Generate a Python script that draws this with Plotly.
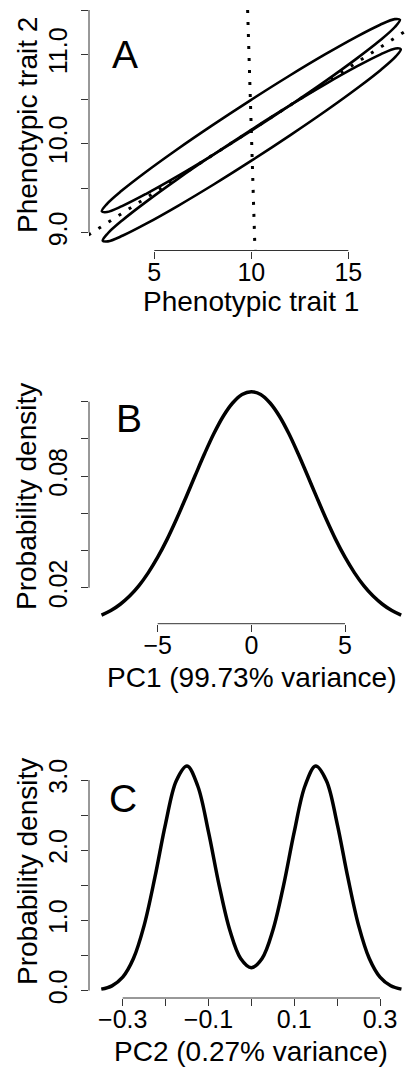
import plotly.graph_objects as go

# ---------------- Panel A data ----------------
trait1_ticks = [5, 10, 15]
trait1_ticktext = ["5", "10", "15"]
trait2_ticks = [9.0, 9.5, 10.0, 10.5, 11.0, 11.5]
trait2_ticktext = ["9.0", "", "10.0", "", "11.0", ""]

ellipse_upper_x = [17.659, 17.391, 16.618, 15.392, 13.797, 11.942, 9.953, 7.966, 6.115, 4.528, 3.312, 2.551, 2.295,
                   2.563, 3.336, 4.562, 6.157, 8.012, 10.001, 11.988, 13.839, 15.426, 16.642, 17.403, 17.659]
ellipse_upper_y = [11.390, 11.398, 11.332, 11.196, 11.001, 10.759, 10.486, 10.202, 9.926, 9.676, 9.470, 9.321, 9.240,
                   9.232, 9.298, 9.434, 9.629, 9.871, 10.144, 10.428, 10.704, 10.954, 11.160, 11.309, 11.390]
ellipse_lower_x = [17.705, 17.437, 16.664, 15.438, 13.843, 11.988, 9.999, 8.012, 6.161, 4.574, 3.358, 2.597, 2.341,
                   2.609, 3.382, 4.608, 6.203, 8.058, 10.047, 12.034, 13.885, 15.472, 16.688, 17.449, 17.705]
ellipse_lower_y = [11.060, 11.068, 11.002, 10.866, 10.671, 10.429, 10.156, 9.872, 9.596, 9.346, 9.140, 8.991, 8.910,
                   8.902, 8.968, 9.104, 9.299, 9.541, 9.814, 10.098, 10.374, 10.624, 10.830, 10.979, 11.060]
pc1_axis_x = [1.6, 18.4]
pc1_axis_y = [8.974, 11.326]
pc2_axis_x = [9.81, 10.19]
pc2_axis_y = [11.5, 8.8]

# ---------------- Panel B data ----------------
pc1_ticks = [-5, 0, 5]
pc1_ticktext = ["\u22125", "0", "5"]
densB_ticks = [0.02, 0.04, 0.06, 0.08, 0.10, 0.12]
densB_ticktext = ["0.02", "", "", "0.08", "", ""]
pc1_x = [-8, -7.5, -7, -6.5, -6, -5.5, -5, -4.5, -4, -3.5, -3, -2.5, -2, -1.5, -1, -0.5, 0,
         0.5, 1, 1.5, 2, 2.5, 3, 3.5, 4, 4.5, 5, 5.5, 6, 6.5, 7, 7.5, 8]
pc1_density = [0.0053, 0.0077, 0.0111, 0.0155, 0.0211, 0.0281, 0.0364, 0.0460, 0.0568, 0.0684, 0.0803,
               0.0920, 0.1029, 0.1122, 0.1193, 0.1239, 0.1254, 0.1239, 0.1193, 0.1122, 0.1029, 0.0920,
               0.0803, 0.0684, 0.0568, 0.0460, 0.0364, 0.0281, 0.0211, 0.0155, 0.0111, 0.0077, 0.0053]

# ---------------- Panel C data ----------------
pc2_ticks = [-0.3, -0.2, -0.1, 0.0, 0.1, 0.2, 0.3]
pc2_ticktext = ["\u22120.3", "", "\u22120.1", "", "0.1", "", "0.3"]
densC_ticks = [0.0, 0.5, 1.0, 1.5, 2.0, 2.5, 3.0]
densC_ticktext = ["0.0", "", "1.0", "", "2.0", "", "3.0"]
pc2_x = [-0.35, -0.325, -0.3, -0.275, -0.25, -0.225, -0.2, -0.175, -0.15, -0.125, -0.1, -0.075, -0.05, -0.025, 0.0,
         0.025, 0.05, 0.075, 0.1, 0.125, 0.15, 0.175, 0.2, 0.225, 0.25, 0.275, 0.3, 0.325, 0.35]
pc2_density = [0.0205, 0.0678, 0.1905, 0.4560, 0.9291, 1.6115, 2.3795, 2.9908, 3.2001, 2.9148, 2.2609, 1.4958,
               0.8548, 0.4574, 0.3264, 0.4574, 0.8548, 1.4958, 2.2609, 2.9148, 3.2001, 2.9908, 2.3795, 1.6115,
               0.9291, 0.4560, 0.1905, 0.0678, 0.0205]

W, H = 406, 1068
FONT = "Liberation Sans, Arial, Helvetica, sans-serif"
AX = "#333333"
x_left = 89 / W
TICK_SIZE = 25
TITLE_SIZE = 28

fig = go.Figure()

# Panel A
fig.add_trace(go.Scatter(x=pc1_axis_x, y=pc1_axis_y, mode="lines", xaxis="x", yaxis="y",
                         line=dict(color="black", width=3, dash="3px,9px")))
fig.add_trace(go.Scatter(x=pc2_axis_x, y=pc2_axis_y, mode="lines", xaxis="x", yaxis="y",
                         line=dict(color="black", width=3, dash="3px,9px")))
fig.add_trace(go.Scatter(x=ellipse_upper_x, y=ellipse_upper_y, mode="lines", xaxis="x", yaxis="y",
                         line=dict(color="black", width=2.6, shape="spline", smoothing=1)))
fig.add_trace(go.Scatter(x=ellipse_lower_x, y=ellipse_lower_y, mode="lines", xaxis="x", yaxis="y",
                         line=dict(color="black", width=2.6, shape="spline", smoothing=1)))
# Panel B
fig.add_trace(go.Scatter(x=pc1_x, y=pc1_density, mode="lines", xaxis="x2", yaxis="y2",
                         line=dict(color="black", width=3.5, shape="spline", smoothing=1)))
# Panel C
fig.add_trace(go.Scatter(x=pc2_x, y=pc2_density, mode="lines", xaxis="x3", yaxis="y3",
                         line=dict(color="black", width=3.5, shape="spline", smoothing=1)))


def xaxis(rng, ticks, text, anchor):
    return dict(domain=[x_left, 1.0], range=rng, anchor=anchor, tickmode="array", tickvals=ticks,
                ticktext=text, ticks="outside", ticklen=7, tickwidth=1, tickcolor=AX, showline=False,
                showgrid=False, zeroline=False, tickangle=0, fixedrange=True, ticklabelstandoff=-8,
                tickfont=dict(family=FONT, size=TICK_SIZE, color="black"))


def yaxis(dom, rng, ticks, text, anchor):
    return dict(domain=dom, range=rng, anchor=anchor, tickmode="array", tickvals=ticks,
                ticktext=text, ticks="outside", ticklen=7, tickwidth=1, tickcolor=AX, showline=False,
                showgrid=False, zeroline=False, tickangle=-90, fixedrange=True, ticklabelstandoff=4,
                tickfont=dict(family=FONT, size=TICK_SIZE, color="black"))


domA = [1 - 250.5 / H, 1 - 10 / H]
domB = [1 - 623.7 / H, 1 - 382.7 / H]
domC = [1 - 998.0 / H, 1 - 757 / H]

shapes = []
for xr, yr, xt, yt in [("x", "y", trait1_ticks, trait2_ticks),
                       ("x2", "y2", pc1_ticks, densB_ticks),
                       ("x3", "y3", pc2_ticks, densC_ticks)]:
    shapes.append(dict(type="line", xref=xr, yref=yr + " domain", x0=xt[0], x1=xt[-1], y0=0, y1=0,
                       line=dict(color=AX, width=1)))
    shapes.append(dict(type="line", xref=xr + " domain", yref=yr, x0=0, x1=0, y0=yt[0], y1=yt[-1],
                       line=dict(color=AX, width=1)))

ann = []


def txt(x, y, s, size, angle=0):
    ann.append(dict(x=x / W, y=1 - y / H, xref="paper", yref="paper", text=s, showarrow=False,
                    xanchor="center", yanchor="middle", textangle=angle,
                    font=dict(family=FONT, size=size, color="black")))


txt(124.5, 54.6, "A", 39)
txt(129, 418.3, "B", 39)
txt(122.5, 798.7, "C", 39)
txt(251, 301.5, "Phenotypic trait 1", TITLE_SIZE)
txt(251, 677.5, "PC1 (99.73% variance)", TITLE_SIZE)
txt(251, 1051, "PC2 (0.27% variance)", TITLE_SIZE)
txt(27, 125, "Phenotypic trait 2", TITLE_SIZE, -90)
txt(27, 497, "Probability density", TITLE_SIZE, -90)
txt(27, 872, "Probability density", TITLE_SIZE, -90)

fig.update_layout(
    width=W, height=H, margin=dict(l=0, r=0, t=0, b=0), template="none",
    paper_bgcolor="white", plot_bgcolor="white", showlegend=False,
    xaxis=xaxis([1.634, 17.974], trait1_ticks, trait1_ticktext, "y"),
    yaxis=yaxis(domA, [8.8, 11.5], trait2_ticks, trait2_ticktext, "x"),
    xaxis2=xaxis([-8.668, 8.257], pc1_ticks, pc1_ticktext, "y2"),
    yaxis2=yaxis(domB, [0.00065, 0.13022], densB_ticks, densB_ticktext, "x2"),
    xaxis3=xaxis([-0.3786, 0.3606], pc2_ticks, pc2_ticktext, "y3"),
    yaxis3=yaxis(domC, [-0.1056, 3.328], densC_ticks, densC_ticktext, "x3"),
    shapes=shapes, annotations=ann,
)

fig.write_html("out.html", config={"displayModeBar": False},
               post_script="document.body.style.margin='0';document.body.style.overflow='hidden';")
